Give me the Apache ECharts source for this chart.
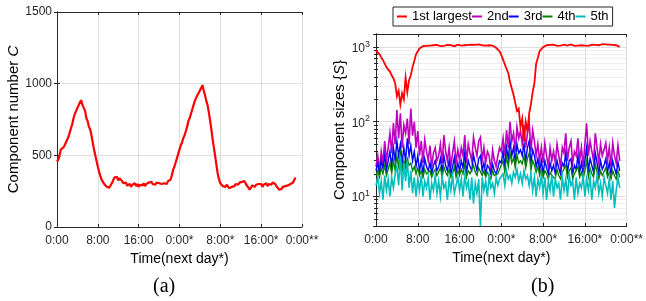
<!DOCTYPE html>
<html><head><meta charset="utf-8">
<script src="https://cdn.jsdelivr.net/npm/echarts@6/dist/echarts.min.js"></script>
<style>html,body{margin:0;padding:0;background:#fff}#c{width:646px;height:301px}</style>
</head><body><div id="c"></div>
<script>
// ---------- data ----------
const timeTickLabels = ['0:00', '8:00', '16:00', '0:00*', '8:00*', '16:00*', '0:00**'];
const legendNames = ['1st largest', '2nd', '3rd', '4th', '5th'];

// (a) component number C, one value every 0.25 h
const leftStepHours = 0.25;
const componentNumber = [
  455,470,500,540,530,555,570,590,600,630,660,690,720,760,790,810,
  830,850,870,885,850,860,810,760,740,700,680,640,590,540,500,460,
  420,385,355,330,315,300,290,280,268,275,290,305,325,345,335,350,
  325,340,330,320,305,295,310,290,285,300,280,295,290,305,285,300,
  280,295,300,290,305,285,300,295,310,300,315,300,305,295,310,300,
  305,295,300,290,305,310,300,320,315,330,360,400,420,450,480,510,
  540,570,590,620,640,670,700,740,760,790,820,850,880,900,920,935,
  945,970,990,950,920,880,850,800,740,680,610,550,490,430,370,330,
  305,295,285,290,280,295,285,270,260,280,290,285,300,290,295,310,
  300,315,305,320,300,290,275,260,270,290,285,280,295,285,300,290,
  300,280,295,290,305,285,300,290,295,310,320,300,285,275,260,270,
  265,280,275,285,280,290,285,300,295,310,330,345
];

// (b) component sizes, one value every 20 min
const rightStepHours = 1 / 3;
const size1st = [
  900,860,800,730,670,600,540,500,470,420,380,330,
  220,260,170,240,200,390,250,360,420,540,650,800,
  880,960,1000,1030,1060,1040,1070,1050,1030,1060,1040,1070,
  1050,1030,1060,1040,1050,1070,1040,1060,1050,1030,1060,1080,
  1070,1050,1080,1060,1090,1070,1050,1080,1100,1070,1060,1090,
  1070,1060,1080,1050,1070,1060,1040,1050,1010,980,930,880,
  780,680,640,510,450,340,330,230,220,140,150,85,
  110,55,100,75,130,170,250,330,600,720,880,940,
  1000,1030,1060,1040,1070,1050,1080,1060,1040,1070,1050,1060,
  1080,1060,1050,1070,1090,1060,1040,1070,1050,1080,1060,1070,
  1050,1070,1040,1060,1080,1050,1070,1090,1060,1080,1100,1070,
  1090,1110,1080,1100,1070,1090,1060,1040,1010
];
const size2nd = [
  25,35,22,40,28,55,30,45,70,38,96,50,
  143,60,130,45,90,70,110,50,150,65,100,45,
  75,35,55,28,57,40,30,48,25,38,45,30,
  35,50,28,66,40,30,45,25,38,55,28,42,
  30,45,35,66,28,50,38,30,62,45,35,55,
  62,30,45,28,40,35,22,42,30,25,35,45,
  40,60,35,77,45,100,55,70,40,85,60,75,
  50,90,45,70,100,40,77,55,35,50,30,45,
  28,52,35,25,45,30,40,28,50,35,25,45,
  38,70,30,45,55,28,40,35,60,30,45,25,
  50,95,35,55,40,30,70,45,28,50,35,42,
  52,30,45,25,52,35,28,48,30
];
const size3rd = [
  22,28,20,30,24,35,22,30,40,25,45,30,
  55,35,50,28,45,30,60,35,48,30,40,25,
  35,22,30,20,32,25,22,28,20,26,30,22,
  25,32,21,35,26,22,30,20,25,33,21,28,
  22,30,24,38,21,30,25,22,36,28,22,32,
  35,22,28,20,26,24,20,27,22,20,24,30,
  28,40,25,45,32,55,35,45,30,50,38,42,
  35,50,30,45,55,28,42,35,25,32,22,30,
  20,30,24,20,28,22,26,20,30,24,20,28,
  25,38,21,30,32,20,26,23,35,21,28,20,
  30,45,22,32,26,21,38,28,20,30,23,26,
  32,21,28,20,30,24,20,29,22
];
const size4th = [
  19,22,18,24,20,26,19,23,28,20,30,22,
  35,25,38,22,30,24,32,26,28,22,25,20,
  24,19,22,18,23,20,19,22,18,21,23,19,
  20,24,18,25,21,19,23,18,20,25,18,22,
  19,23,20,27,18,22,20,19,26,21,19,24,
  25,19,22,18,21,20,17,22,19,18,20,23,
  22,30,21,34,25,38,28,33,24,36,28,30,
  27,35,24,32,38,22,30,26,21,25,19,23,
  18,22,20,17,21,19,20,17,23,19,17,21,
  20,26,18,22,24,17,20,19,25,18,21,17,
  22,30,18,24,20,18,27,21,17,22,19,20,
  24,18,21,17,22,19,17,22,18
];
const size5th = [
  14,18,11,16,9,19,12,17,10,18,13,20,
  25,14,35,12,28,16,30,13,22,11,18,10,
  17,12,19,10,16,13,18,9,15,12,19,11,
  16,10,18,13,15,9,17,12,19,11,14,18,
  12,17,10,19,13,16,9,18,8,15,11,17,
  4,18,12,16,10,19,13,15,11,18,14,17,
  16,20,14,22,17,19,15,21,18,23,16,20,
  15,22,17,19,14,20,12,18,10,17,13,19,
  11,18,9,16,12,19,10,17,13,15,9,18,
  12,17,10,19,14,16,9,18,11,15,13,19,
  10,17,12,18,9,16,13,19,11,15,10,18,
  14,11,17,9,16,7,12,18,13
];

// ---------- chart ----------
const seriesColors = ['#ff0000', '#bf00bf', '#0000ff', '#008000', '#00bfbf'];
const lineWidths = [1.8, 1.6, 1.4, 1.3, 1.6];
const FONT = '"Liberation Sans", Arial, Helvetica, sans-serif';
const AX = '#262626';
const GRIDC = '#dedede';

function withTime(vals, step) {
  return vals.map((v, i) => [Math.round(i * step * 10000) / 10000, v]);
}

function timeAxis(gridIndex, main) {
  return {
    gridIndex, type: 'value', min: 0, max: 48, interval: 8,
    position: main ? 'bottom' : 'top',
    axisLine: { show: true, onZero: false, lineStyle: { color: AX, width: 1 } },
    axisTick: { show: true, inside: true, length: 3, lineStyle: { color: AX } },
    axisLabel: main ? { show: true, margin: 8, fontSize: 12, color: AX, fontFamily: FONT,
      formatter: v => timeTickLabels[Math.round(v / 8)] } : { show: false },
    splitLine: { show: main, lineStyle: { color: GRIDC, width: 1 } },
    name: main ? 'Time(next day*)' : '', nameLocation: 'middle', nameGap: 25,
    nameTextStyle: { fontSize: 14, color: '#000', fontFamily: FONT }
  };
}

const supRich = {
  s: { fontSize: 9, color: AX, fontFamily: FONT, verticalAlign: 'top', padding: [0, 0, 6, 0] },
  b: { fontSize: 12, color: AX, fontFamily: FONT, verticalAlign: 'bottom' }
};

function logAxis(main) {
  return {
    gridIndex: 1, type: 'log', logBase: 10, min: 4, max: 1500,
    position: main ? 'left' : 'right',
    axisLine: { show: true, lineStyle: { color: AX, width: 1 } },
    axisTick: { show: true, inside: true, length: 3, lineStyle: { color: AX } },
    minorTick: { show: true, splitNumber: 9, length: 2, lineStyle: { color: AX } },
    minorSplitLine: { show: main, lineStyle: { color: '#eeeeee', width: 1 } },
    axisLabel: main ? {
      show: true, margin: 6, showMinLabel: false, showMaxLabel: false,
      formatter: v => '{b|10}{s|' + Math.round(Math.log10(v)) + '}', rich: supRich
    } : { show: false },
    splitLine: { show: main, lineStyle: { color: GRIDC, width: 1 } },
    name: main ? 'Component sizes {{i|S}}' : '', nameLocation: 'middle', nameGap: 26,
    nameTextStyle: { fontSize: 15, color: '#000', fontFamily: FONT,
      rich: { i: { fontSize: 15, fontStyle: 'italic', color: '#000', fontFamily: FONT } } }
  };
}

function linAxis(main) {
  return {
    gridIndex: 0, type: 'value', min: 0, max: 1500, interval: 500,
    position: main ? 'left' : 'right',
    axisLine: { show: true, lineStyle: { color: AX, width: 1 } },
    axisTick: { show: true, inside: true, length: 3, lineStyle: { color: AX } },
    axisLabel: main ? { show: true, margin: 5, fontSize: 12, color: AX, fontFamily: FONT,
      formatter: v => String(v) } : { show: false },
    splitLine: { show: main, lineStyle: { color: GRIDC, width: 1 } },
    name: main ? 'Component number {i|C}' : '', nameLocation: 'middle', nameGap: 36,
    nameTextStyle: { fontSize: 15, color: '#000', fontFamily: FONT,
      rich: { i: { fontSize: 15, fontStyle: 'italic', color: '#000', fontFamily: FONT } } }
  };
}

const rightSeriesData = [size1st, size2nd, size3rd, size4th, size5th];
const zOrder = [7, 3, 4, 5, 6];
const rightSeries = rightSeriesData.map((vals, k) => ({
  name: legendNames[k], type: 'line', xAxisIndex: 2, yAxisIndex: 2,
  data: withTime(vals, rightStepHours), showSymbol: false, symbol: 'none',
  z: zOrder[k], color: seriesColors[k],
  lineStyle: { color: seriesColors[k], width: lineWidths[k], join: 'miter' }
}));

const chart = echarts.init(document.getElementById('c'), null, { renderer: 'canvas' });
chart.setOption({
  animation: false,
  backgroundColor: '#fff',
  textStyle: { fontFamily: FONT },
  grid: [
    { left: 57, top: 12, width: 245, height: 215 },
    { left: 376, top: 34, width: 255, height: 192 }
  ],
  xAxis: [timeAxis(0, true), timeAxis(0, false), timeAxis(1, true), timeAxis(1, false)],
  yAxis: [linAxis(true), linAxis(false), logAxis(true), logAxis(false)],
  legend: {
    left: 393, top: 7, padding: [3, 4], itemGap: 0, itemWidth: 10, itemHeight: 2,
    icon: 'rect', borderColor: AX, borderWidth: 1, backgroundColor: '#fff',
    textStyle: { fontSize: 13, color: '#000', fontFamily: FONT },
    data: legendNames
  },
  graphic: [
    { type: 'text', left: 164 - 11, top: 277, style: { text: '(a)', font: '20px "Liberation Serif", "DejaVu Serif", serif', fill: '#000' } },
    { type: 'text', left: 542 - 11, top: 277, style: { text: '(b)', font: '20px "Liberation Serif", "DejaVu Serif", serif', fill: '#000' } }
  ],
  series: [
    { name: 'C', type: 'line', xAxisIndex: 0, yAxisIndex: 0,
      data: withTime(componentNumber, leftStepHours), showSymbol: false, symbol: 'none',
      lineStyle: { color: '#ff0000', width: 2.2 }, color: '#ff0000' }
  ].concat(rightSeries)
});
</script></body></html>
